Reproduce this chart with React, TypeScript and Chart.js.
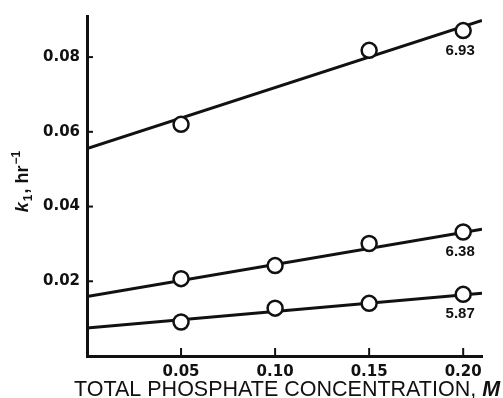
import { useEffect, useRef } from "react";
import { Chart, registerables } from "chart.js";

Chart.register(...registerables);

// Tick values
const xTicks = [0.05, 0.1, 0.15, 0.2];
const yTicks = [0.02, 0.04, 0.06, 0.08];

// Series (pH labels)
const seriesLabels = ["6.93", "6.38", "5.87"];

const x693 = [0.05, 0.15, 0.2];
const k693 = [0.062, 0.0818, 0.0871];

const x638 = [0.05, 0.1, 0.15, 0.2];
const k638 = [0.0207, 0.0242, 0.0301, 0.0332];

const x587 = [0.05, 0.1, 0.15, 0.2];
const k587 = [0.0091, 0.0128, 0.0141, 0.0165];

// Fitted lines
const fitX = [0, 0.21];
const fit693 = [0.0555, 0.0898];
const fit638 = [0.0159, 0.0339];
const fit587 = [0.0075, 0.0168];

const INK = "#111";

function pts(xs: number[], ys: number[]) {
  return xs.map((x, i) => ({ x, y: ys[i] }));
}

const decorPlugin = {
  id: "decor",
  afterDraw(chart: any) {
    const ctx = chart.ctx as CanvasRenderingContext2D;
    const xs = chart.scales.x;
    const ys = chart.scales.y;
    const area = chart.chartArea;
    ctx.save();
    ctx.strokeStyle = INK;
    ctx.fillStyle = INK;
    ctx.lineWidth = 2;
    // inward tick marks
    xTicks.forEach((v) => {
      const px = xs.getPixelForValue(v);
      ctx.beginPath();
      ctx.moveTo(px, area.bottom);
      ctx.lineTo(px, area.bottom - 8);
      ctx.stroke();
    });
    yTicks.forEach((v) => {
      const py = ys.getPixelForValue(v);
      ctx.beginPath();
      ctx.moveTo(area.left, py);
      ctx.lineTo(area.left + 6, py);
      ctx.stroke();
    });

    // series labels under the last point
    const lastVals = [k693[k693.length - 1], k638[k638.length - 1], k587[k587.length - 1]];
    const lastX = [x693[x693.length - 1], x638[x638.length - 1], x587[x587.length - 1]];
    ctx.font = "bold 15px 'Liberation Sans'";
    ctx.textAlign = "center";
    ctx.textBaseline = "middle";
    seriesLabels.forEach((lab, i) => {
      const px = xs.getPixelForValue(lastX[i]) - 3;
      const py = ys.getPixelForValue(lastVals[i]) + 20;
      ctx.fillText(lab, px, py);
    });

    // y axis title: k1, hr-1 (rotated)
    ctx.save();
    ctx.translate(22, 181);
    ctx.rotate(-Math.PI / 2);
    ctx.textAlign = "left";
    ctx.textBaseline = "alphabetic";
    const parts = [
      { t: "k", f: "italic bold 18px 'Liberation Sans'", dy: 0 },
      { t: "1", f: "bold 12px 'Liberation Sans'", dy: 4 },
      { t: ", hr", f: "bold 18px 'Liberation Sans'", dy: 0 },
      { t: "\u22121", f: "bold 12px 'Liberation Sans'", dy: -8 },
    ];
    let total = 0;
    parts.forEach((p) => {
      ctx.font = p.f;
      total += ctx.measureText(p.t).width + 1;
    });
    let cx = -total / 2;
    parts.forEach((p) => {
      ctx.font = p.f;
      ctx.fillText(p.t, cx, 6 + p.dy);
      cx += ctx.measureText(p.t).width + 1;
    });
    ctx.restore();

    // x axis title
    const t1 = "TOTAL PHOSPHATE CONCENTRATION, ";
    const t2 = "M";
    ctx.textAlign = "left";
    ctx.textBaseline = "alphabetic";
    const target = 426;
    const base = 20;
    ctx.font = `${base}px 'Liberation Sans'`;
    const a = ctx.measureText(t1).width;
    ctx.font = `italic bold ${base}px 'Liberation Sans'`;
    const b = ctx.measureText(t2).width;
    const size = (base * target) / (a + b);
    const f1 = `${size.toFixed(2)}px 'Liberation Sans'`;
    const f2 = `italic bold ${size.toFixed(2)}px 'Liberation Sans'`;
    ctx.font = f1;
    const w1 = ctx.measureText(t1).width;
    const start = 287 - target / 2;
    ctx.fillText(t1, start, 396);
    ctx.font = f2;
    ctx.fillText(t2, start + w1, 396);
    ctx.restore();
  },
};

export default function App() {
  const ref = useRef<HTMLCanvasElement | null>(null);
  useEffect(() => {
    if (!ref.current) return;
    const lineDs = (ys: number[]) => ({
      type: "scatter" as const,
      data: pts(fitX, ys),
      showLine: true,
      borderColor: INK,
      borderWidth: 3,
      pointRadius: 0,
      order: 2,
    });
    const pointDs = (xs: number[], ys: number[]) => ({
      type: "scatter" as const,
      data: pts(xs, ys),
      showLine: false,
      pointRadius: 7.5,
      pointBorderWidth: 2.5,
      pointBackgroundColor: "#fff",
      pointBorderColor: INK,
      borderColor: INK,
      backgroundColor: "#fff",
      order: 1,
    });
    const chart = new Chart(ref.current, {
      type: "scatter",
      data: {
        datasets: [
          lineDs(fit693),
          lineDs(fit638),
          lineDs(fit587),
          pointDs(x693, k693),
          pointDs(x638, k638),
          pointDs(x587, k587),
        ] as any,
      },
      options: {
        animation: false,
        responsive: false,
        layout: { padding: { top: 12, right: 21, left: 0, bottom: 0 } },
        plugins: { legend: { display: false }, tooltip: { enabled: false } },
        scales: {
          x: {
            type: "linear",
            min: 0,
            max: 0.21,
            grid: { display: false, drawTicks: false },
            border: { display: true, width: 3, color: INK },
            afterBuildTicks: (s: any) => {
              s.ticks = xTicks.map((v) => ({ value: v }));
            },
            afterFit: (s: any) => {
              s.height = 42;
            },
            ticks: {
              color: INK,
              padding: 7,
              font: { family: "'DejaVu Sans'", size: 15, weight: "bold" },
              callback: (v: any) => Number(v).toFixed(2),
              maxRotation: 0,
              autoSkip: false,
            },
          },
          y: {
            type: "linear",
            min: 0,
            max: 0.091,
            grid: { display: false, drawTicks: false },
            border: { display: true, width: 3, color: INK },
            afterBuildTicks: (s: any) => {
              s.ticks = yTicks.map((v) => ({ value: v }));
            },
            afterFit: (s: any) => {
              s.width = 87;
            },
            ticks: {
              color: INK,
              padding: 7,
              font: { family: "'DejaVu Sans'", size: 15, weight: "bold" },
              callback: (v: any) => Number(v).toFixed(2),
              autoSkip: false,
            },
          },
        },
      },
      plugins: [decorPlugin],
    });
    return () => chart.destroy();
  }, []);
  return (
    <div style={{ position: "fixed", left: 0, top: 0, width: 503, height: 398, background: "#fff" }}>
      <canvas ref={ref} width={503} height={398} style={{ display: "block" }} />
    </div>
  );
}
